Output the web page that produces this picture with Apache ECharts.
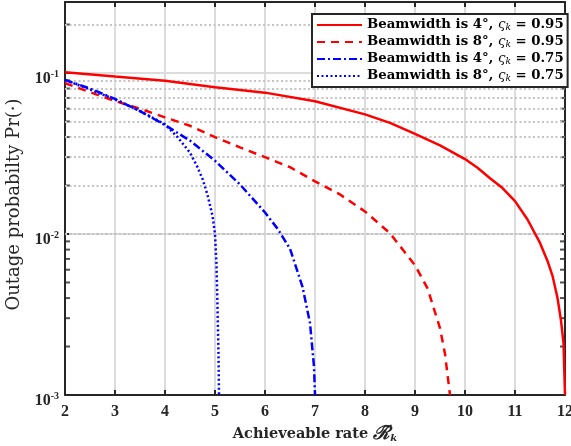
<!DOCTYPE html>
<html>
<head>
<meta charset="utf-8">
<script src="https://cdn.jsdelivr.net/npm/echarts@6/dist/echarts.min.js"></script>
<style>
  html, body { margin: 0; padding: 0; background: #ffffff; }
  #chart { width: 571px; height: 446px; }
</style>
</head>
<body>
<div id="chart"></div>
<script>
// Axis ticks
const rateTicks = [2, 3, 4, 5, 6, 7, 8, 9, 10, 11, 12];
const minorLevels = [0.002, 0.003, 0.004, 0.005, 0.006, 0.007, 0.008, 0.009,
                     0.02, 0.03, 0.04, 0.05, 0.06, 0.07, 0.08, 0.09, 0.2];

// Beamwidth 4 deg, varsigma_k = 0.95
const rateBw4Hi = [2, 3, 4, 5, 6, 7, 8, 8.5, 9, 9.5, 10, 10.25, 10.5, 10.75, 11, 11.25, 11.5, 11.65,
                   11.75, 11.85, 11.92, 11.97, 12];
const probBw4Hi = [0.101, 0.095, 0.0895, 0.0816, 0.0755, 0.0668, 0.0553, 0.049, 0.0418, 0.0355, 0.0292,
                   0.0258, 0.0222, 0.0193, 0.016, 0.0123, 0.0088, 0.0068, 0.0055, 0.0040, 0.0029,
                   0.0021, 0.001];
// Beamwidth 8 deg, varsigma_k = 0.95
const rateBw8Hi = [2, 2.5, 3, 3.5, 4, 4.5, 5, 5.5, 6, 6.5, 7, 7.5, 8, 8.5, 9, 9.25, 9.5, 9.6, 9.7];
const probBw8Hi = [0.0865, 0.076, 0.067, 0.060, 0.053, 0.047, 0.040, 0.0345, 0.030, 0.026, 0.0212,
                   0.0176, 0.0138, 0.0101, 0.0064, 0.0046, 0.0026, 0.0018, 0.001];
// Beamwidth 4 deg, varsigma_k = 0.75
const rateBw4Lo = [2, 2.5, 3, 3.5, 4, 4.5, 5, 5.5, 6, 6.25, 6.5, 6.75, 6.9, 6.98, 7.0];
const probBw4Lo = [0.0905, 0.080, 0.069, 0.058, 0.0475, 0.038, 0.0285, 0.0203, 0.0136, 0.0108, 0.0081,
                   0.0047, 0.0028, 0.0015, 0.001];
// Beamwidth 8 deg, varsigma_k = 0.75
const rateBw8Lo = [2, 2.5, 3, 3.5, 4, 4.25, 4.5, 4.65, 4.75, 4.85, 4.95, 5.0, 5.03, 5.05, 5.07, 5.08];
const probBw8Lo = [0.0905, 0.079, 0.0685, 0.058, 0.048, 0.040, 0.032, 0.026, 0.022, 0.0175, 0.013,
                   0.010, 0.0065, 0.0035, 0.0018, 0.001];

const seriesNames = ['bw4hi', 'bw8hi', 'bw4lo', 'bw8lo'];
const legendText = {
  bw4hi: 'Beamwidth is 4°, {v|ς}{k|k}{b| = 0.95}',
  bw8hi: 'Beamwidth is 8°, {v|ς}{k|k}{b| = 0.95}',
  bw4lo: 'Beamwidth is 4°, {v|ς}{k|k}{b| = 0.75}',
  bw8lo: 'Beamwidth is 8°, {v|ς}{k|k}{b| = 0.75}'
};

const zip = (xs, ys) => xs.map((x, i) => [x, ys[i]]);
const AX = '#262626';
const SERIF = '"Liberation Serif", "DejaVu Serif", serif';
const WIDE = '"DejaVu Serif", "Liberation Serif", serif';

const chart = echarts.init(document.getElementById('chart'), null, { renderer: 'canvas' });

function curve(name, xs, ys, color, dash) {
  return {
    name: name,
    type: 'line',
    data: zip(xs, ys),
    showSymbol: false,
    symbol: 'none',
    clip: true,
    z: 5,
    lineStyle: { color: color, width: 2.5, type: dash },
    itemStyle: { color: color }
  };
}

const option = {
  animation: false,
  backgroundColor: '#ffffff',
  grid: { left: 65, right: 6, top: 2, bottom: 51, containLabel: false, outerBoundsMode: 'none' },
  legend: {
    data: seriesNames,
    orient: 'vertical',
    left: 312,
    top: 14,
    backgroundColor: '#ffffff',
    borderColor: AX,
    borderWidth: 2,
    borderRadius: 0,
    padding: [3, 4, 3, 4],
    itemGap: 1,
    itemWidth: 45,
    itemHeight: 12,
    z: 20,
    itemStyle: { opacity: 0 },
    formatter: n => legendText[n],
    textStyle: {
      fontFamily: WIDE,
      fontWeight: 'bold',
      fontSize: 13.3,
      lineHeight: 16,
      color: '#000',
      rich: {
        v: { fontFamily: WIDE, fontStyle: 'italic', fontWeight: 'normal', fontSize: 13.3, lineHeight: 16, color: '#000' },
        k: { fontFamily: WIDE, fontStyle: 'italic', fontWeight: 'normal', fontSize: 9, lineHeight: 16, color: '#000', padding: [5, 0, 0, 0] },
        b: { fontFamily: WIDE, fontWeight: 'bold', fontSize: 13.3, lineHeight: 16, color: '#000' }
      }
    }
  },
  xAxis: [{
    type: 'value',
    min: 2, max: 12, interval: 1,
    name: 'Achieveable rate {r|ℛ\u0303}{k|k}',
    nameLocation: 'middle',
    nameGap: 27,
    nameTextStyle: {
      fontFamily: WIDE, fontWeight: 'bold', fontSize: 14.5, color: AX,
      rich: {
        r: { fontFamily: WIDE, fontStyle: 'italic', fontSize: 19, color: AX },
        k: { fontFamily: WIDE, fontStyle: 'italic', fontSize: 10, color: AX, padding: [9, 0, 0, 0] }
      }
    },
    axisLine: { show: true, lineStyle: { color: AX, width: 2 } },
    axisTick: { show: true, inside: true, length: 5, lineStyle: { color: AX, width: 2 } },
    axisLabel: { fontFamily: SERIF, fontWeight: 'bold', fontSize: 16, color: AX, margin: 9 },
    splitLine: { show: true, lineStyle: { color: '#dcdcdc', width: 2 } }
  }, {
    type: 'value',
    position: 'top',
    min: 2, max: 12, interval: 1,
    axisLine: { show: true, onZero: false, lineStyle: { color: AX, width: 2 } },
    axisTick: { show: true, inside: true, length: 5, lineStyle: { color: AX, width: 2 } },
    axisLabel: { show: false },
    splitLine: { show: false }
  }],
  yAxis: [{
    type: 'log',
    logBase: 10,
    min: 0.001, max: 0.276,
    interval: 1,
    name: 'Outage probabilty Pr(·)',
    nameLocation: 'middle',
    nameGap: 39,
    nameTextStyle: { fontFamily: WIDE, fontSize: 18, color: AX, padding: [0, 12, 0, 0] },
    axisLine: { show: true, lineStyle: { color: AX, width: 2 } },
    axisTick: { show: true, inside: true, length: 5, lineStyle: { color: AX, width: 2 } },
    axisLabel: {
      margin: 6,
      padding: [12, 0, 0, 0],
      formatter: v => {
        const e = Math.round(Math.log10(v));
        if (Math.abs(Math.log10(v) - e) > 1e-6) return '';
        return '{b|10}{s|' + e + '}';
      },
      rich: {
        b: { fontFamily: SERIF, fontWeight: 'bold', fontSize: 16, color: AX },
        s: { fontFamily: SERIF, fontWeight: 'bold', fontSize: 10, color: AX, padding: [0, 0, 9, 0] }
      }
    },
    splitLine: { show: true, lineStyle: { color: '#dcdcdc', width: 2 } }
  }, {
    type: 'log',
    logBase: 10,
    min: 0.001, max: 0.276,
    interval: 1,
    position: 'right',
    axisLine: { show: true, lineStyle: { color: AX, width: 2 } },
    axisTick: { show: true, inside: true, length: 5, lineStyle: { color: AX, width: 2 } },
    axisLabel: { show: false },
    splitLine: { show: false }
  }],
  series: [
    curve('bw4hi', rateBw4Hi, probBw4Hi, '#ff0000', 'solid'),
    curve('bw8hi', rateBw8Hi, probBw8Hi, '#ff0000', [8, 6]),
    curve('bw4lo', rateBw4Lo, probBw4Lo, '#0000ff', [8, 3, 2, 3]),
    curve('bw8lo', rateBw8Lo, probBw8Lo, '#0000ff', [2, 2.5]),
    {
      // minor log ticks on the left edge + dotted minor grid
      name: 'minorLeft',
      type: 'scatter',
      data: minorLevels.map(v => [2, v]),
      symbol: 'rect',
      symbolSize: [5, 2],
      symbolOffset: [2.5, 0],
      itemStyle: { color: AX },
      silent: true,
      z: 2,
      markLine: {
        silent: true,
        symbol: 'none',
        label: { show: false },
        lineStyle: { color: '#c4c4c4', width: 2, type: [2, 2.5] },
        data: minorLevels.map(v => ({ yAxis: v }))
      }
    },
    {
      // minor log ticks on the right edge
      name: 'minorRight',
      type: 'scatter',
      data: minorLevels.map(v => [12, v]),
      symbol: 'rect',
      symbolSize: [5, 2],
      symbolOffset: [-2.5, 0],
      itemStyle: { color: AX },
      silent: true,
      z: 2
    }
  ]
};

chart.setOption(option);
</script>
</body>
</html>
